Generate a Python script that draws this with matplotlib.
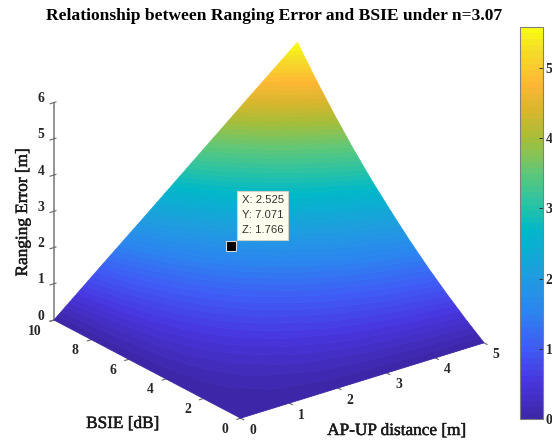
import numpy as np
import matplotlib
matplotlib.use("Agg")
import matplotlib.pyplot as plt
import matplotlib.patheffects as pe
from matplotlib.colors import LinearSegmentedColormap, Normalize
from matplotlib.cm import ScalarMappable
from mpl_toolkits.mplot3d import proj3d

# values
distance = [0, 1, 2, 3, 4, 5]
bsie = [0, 1, 2, 3, 4, 5, 6, 7, 8, 9, 10]
error = [
    [0.00, 0.00, 0.00, 0.00, 0.00, 0.00],
    [0.00, 0.08, 0.16, 0.23, 0.31, 0.39],
    [0.00, 0.16, 0.32, 0.49, 0.65, 0.81],
    [0.00, 0.25, 0.50, 0.76, 1.01, 1.26],
    [0.00, 0.35, 0.70, 1.05, 1.40, 1.75],
    [0.00, 0.46, 0.91, 1.37, 1.82, 2.28],
    [0.00, 0.57, 1.14, 1.70, 2.27, 2.84],
    [0.00, 0.69, 1.38, 2.07, 2.76, 3.45],
    [0.00, 0.82, 1.64, 2.47, 3.29, 4.11],
    [0.00, 0.96, 1.93, 2.89, 3.86, 4.82],
    [0.00, 1.12, 2.23, 3.35, 4.47, 5.58],
]
error_max = 5.585

x_ticks = [0, 1, 2, 3, 4, 5]
y_ticks = [0, 2, 4, 6, 8, 10]
z_ticks = [0, 1, 2, 3, 4, 5, 6]
cbar_ticks = [0, 1, 2, 3, 4, 5]

tip_x = 2.525
tip_y = 7.071
tip_z = 1.766

# colorbar colours, bottom to top
cmap_stops = [
    (0.00, "#3e26a8"),
    (0.09, "#4836e0"),
    (0.18, "#3f5cf6"),
    (0.27, "#2b84f0"),
    (0.36, "#1f9ce0"),
    (0.48, "#00b8c8"),
    (0.55, "#2ac3a4"),
    (0.63, "#5fc878"),
    (0.72, "#a8bd38"),
    (0.79, "#d8b62c"),
    (0.86, "#fdb734"),
    (0.95, "#f5df26"),
    (1.00, "#f9fb14"),
]

W, H = 552, 444
SERIF = "Liberation Serif"
SANS = "Liberation Sans"

parula = LinearSegmentedColormap.from_list("parula_like", cmap_stops, N=64)
norm = Normalize(0, error_max)

fig = plt.figure(figsize=(W / 100, H / 100), dpi=100)
ax = fig.add_axes([0.1, 0.1, 0.8, 0.8], projection="3d", proj_type="ortho")
ax.view_init(elev=23.8, azim=-127.5)
ax.set_box_aspect((1, 1, 0.775))
ax.set_xlim(0, 5)
ax.set_ylim(0, 10)
ax.set_zlim(0, 6)
ax.set_xticks(x_ticks)
ax.set_yticks(y_ticks)
ax.set_zticks(z_ticks)
ax.set_xticklabels([])
ax.set_yticklabels([])
ax.set_zticklabels([])
ax.grid(False)
for axis in (ax.xaxis, ax.yaxis, ax.zaxis):
    axis.set_pane_color((1, 1, 1, 0))
    axis.pane.set_edgecolor((1, 1, 1, 0))
ax.xaxis.line.set_color((1, 1, 1, 0))
ax.yaxis.line.set_color((1, 1, 1, 0))
ax.zaxis.line.set_color("#959595")
ax.zaxis.line.set_linewidth(1.4)
ax.tick_params(colors="#666666", width=0.6)


def project(x, y, z):
    shape = np.shape(x)
    px, py, _ = proj3d.proj_transform(np.ravel(x).astype(float), np.ravel(y).astype(float),
                                      np.ravel(z).astype(float), ax.get_proj())
    return np.reshape(px, shape), np.reshape(py, shape)


# fit the square 3d axes so the box corners land where they do in the picture
fig.canvas.draw()
ux, uy = ax.transLimits.transform(np.column_stack(project([0, 5], [10, 0], [0, 0]))).T
side = (484 - 54) / (ux[1] - ux[0])
left = 54 - side * ux[0]
bottom = (H - 320) - side * uy[0]
ax.set_position([left / W, bottom / H, side / W, side / H])
fig.canvas.draw()


def to_pixels(x, y, z):
    px, py = project(x, y, z)
    pts = ax.transData.transform(np.column_stack([np.ravel(px), np.ravel(py)]))
    return pts[:, 0].reshape(np.shape(px)), H - pts[:, 1].reshape(np.shape(px))


# overlay in pixel coordinates for the surface and the text
ov = fig.add_axes([0, 0, 1, 1], facecolor="none")
ov.set_xlim(0, W)
ov.set_ylim(H, 0)
ov.axis("off")

gx, gy = np.meshgrid(distance, bsie)
sx, sy = to_pixels(gx, gy, np.array(error))
levels = np.linspace(0, error_max, 65)
surf = ov.contourf(sx, sy, np.array(error), levels=levels, cmap=parula, norm=norm,
                   extend="max", antialiased=True)
surf.set_edgecolor("face")
surf.set_linewidth(0.6)

thick = [pe.withStroke(linewidth=0.35, foreground="#1a1a1a")]
tick_font = dict(family=SERIF, fontweight="bold", fontsize=9.8, color="#262626", va="center")
for t in x_ticks:
    tx, ty = to_pixels(t, 0, 0)
    ov.text(tx + 12, ty + 12, str(t), ha="center", **tick_font)
for t in y_ticks:
    tx, ty = to_pixels(0, t, 0)
    ov.text(tx - 12.5, ty + 11, str(t), ha="right", **tick_font)
for t in z_ticks:
    tx, ty = to_pixels(0, 10, t)
    ov.text(tx - 13, ty - 4, str(t), ha="center", **tick_font)

label_font = dict(family=SERIF, fontsize=12.4, color="#1a1a1a", ha="center", va="center",
                  path_effects=thick)
ov.text(397, 431, "AP-UP distance [m]", **label_font)
ov.text(123, 424, "BSIE [dB]", **label_font)
ov.text(23, 212, "Ranging Error [m]", rotation=90, **label_font)
ov.text(274.5, 16, "Relationship between Ranging Error and BSIE under n=3.07",
        family=SERIF, fontweight="bold", fontsize=12.6, color="black",
        ha="center", va="center")

# data tip
mx, my = to_pixels(tip_x, tip_y, tip_z)
ov.plot([mx - 0.7], [my - 0.7], "s", color="black", markeredgecolor="#d8d8d8",
        markeredgewidth=0.8, markersize=6.5)
ov.text(mx + 10, my - 31.5, f"X: {tip_x}\nY: {tip_y}\nZ: {tip_z}", family=SANS,
        fontsize=8.1, color="#333333", ha="left", va="center", linespacing=1.6,
        bbox=dict(boxstyle="square,pad=0.4", facecolor="#fffff0", edgecolor="#d0d0c8",
                  linewidth=0.8))

# colorbar
cax = fig.add_axes([520 / W, (H - 419) / H, 23 / W, 392 / H])
cb = fig.colorbar(ScalarMappable(norm=norm, cmap=parula), cax=cax, ticks=cbar_ticks)
cb.outline.set_edgecolor("#808080")
cb.outline.set_linewidth(0.8)
cax.tick_params(direction="in", length=3, width=0.7, color="#333333", pad=2)
for lab in cax.get_yticklabels():
    lab.set_family(SERIF)
    lab.set_fontweight("bold")
    lab.set_fontsize(9.8)
    lab.set_color("#262626")

fig.savefig("out.png", dpi=100)
